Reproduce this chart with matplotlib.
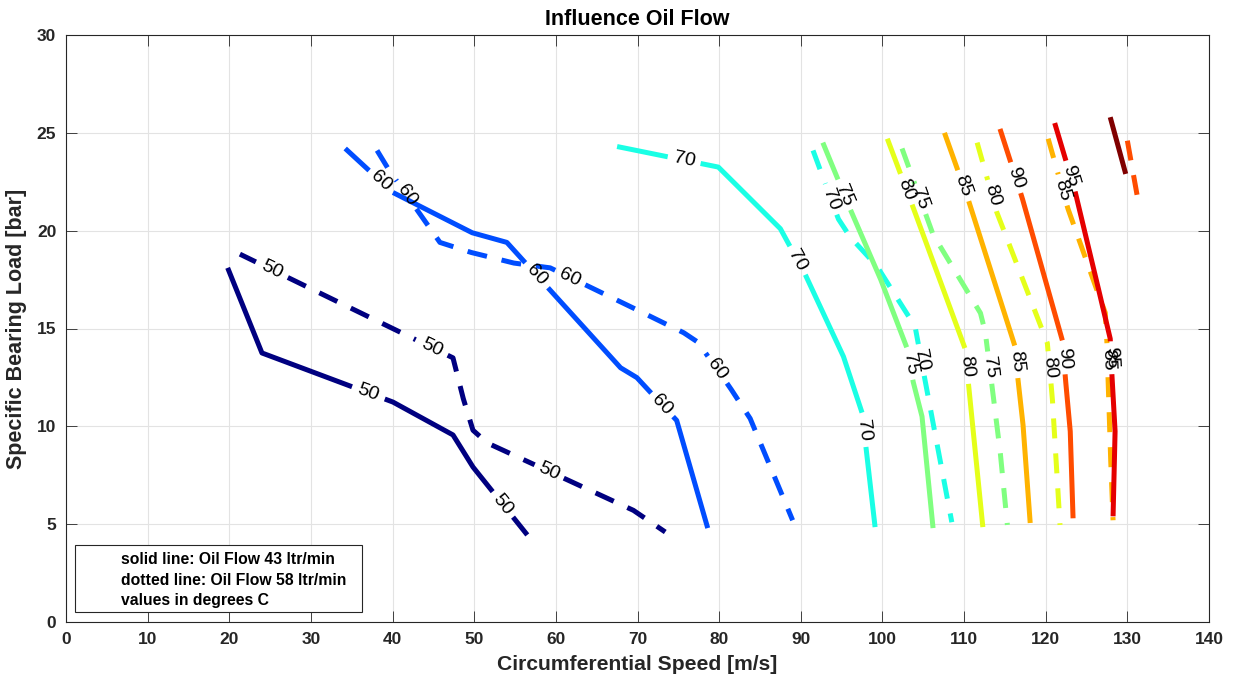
import numpy as np
import matplotlib
matplotlib.use("Agg")
import matplotlib.pyplot as plt
from matplotlib.patches import Rectangle

plt.rcParams['font.family'] = ['Liberation Sans', 'DejaVu Sans']

# contour lines (x = speed m/s, y = load bar)
# solid = oil flow 43 ltr/min, dashed = oil flow 58 ltr/min
solid_50_x = [19.8, 24.0, 40.05, 47.4, 49.85, 56.5]
solid_50_y = [18.1, 13.75, 11.24, 9.56, 7.92, 4.45]
solid_50_lab = [11.7, 6.0]

dashed_50_x = [21.3, 47.4, 48.6, 49.85, 51.6, 69.45, 73.4]
dashed_50_y = [18.8, 13.5, 11.5, 9.8, 9.15, 5.72, 4.6]
dashed_50_lab = [18.0, 14.0, 7.7]

solid_60_x = [34.2, 40.05, 49.7, 54.0, 67.9, 69.9, 71.9, 74.8, 78.6]
solid_60_y = [24.2, 21.95, 19.9, 19.4, 13.0, 12.5, 11.6, 10.3, 4.8]
solid_60_lab = [22.5, 17.7, 11.1]

dashed_60_x = [38.1, 39.4, 45.8, 49.5, 54.75, 59.3, 67.5, 75.6, 77.4, 81.3, 83.8, 89.0]
dashed_60_y = [24.1, 23.2, 19.4, 18.9, 18.35, 18.1, 16.45, 14.8, 14.3, 12.0, 10.4, 5.2]
dashed_60_lab = [21.8, 17.6, 12.9]

solid_70_x = [67.5, 79.9, 87.5, 90.5, 95.2, 97.5, 99.1]
solid_70_y = [24.3, 23.25, 20.1, 17.8, 13.6, 10.7, 4.85]
solid_70_lab = [23.6, 18.5, 9.8]

dashed_70_x = [91.5, 94.6, 96.0, 99.3, 104.0, 105.6, 108.5]
dashed_70_y = [24.1, 20.6, 19.7, 18.2, 15.1, 11.5, 5.1]
dashed_70_lab = [21.6, 13.4]

solid_75_x = [92.7, 96.0, 99.7, 103.1, 103.75, 104.85, 106.2]
solid_75_y = [24.5, 21.15, 17.6, 13.9, 12.3, 10.5, 4.8]
solid_75_lab = [21.8, 13.2]

dashed_75_x = [102.4, 106.2, 112.0, 112.6, 114.4, 115.3]
dashed_75_y = [24.2, 19.8, 15.8, 14.8, 8.8, 4.96]
dashed_75_lab = [21.6, 13.0]

solid_80_x = [100.6, 103.75, 110.1, 112.3]
solid_80_y = [24.7, 21.2, 14.0, 4.85]
solid_80_lab = [22.1, 13.1]

dashed_80_x = [111.6, 114.0, 120.2, 120.8, 121.75]
dashed_80_y = [24.5, 20.95, 14.25, 11.5, 4.96]
dashed_80_lab = [21.8, 13.0]

solid_85_x = [107.6, 110.5, 116.2, 116.6, 117.2, 118.1]
solid_85_y = [25.0, 21.6, 14.15, 12.4, 10.2, 5.06]
solid_85_lab = [22.3, 13.3]

dashed_85_x = [120.3, 122.7, 125.8, 127.3, 127.5, 127.9, 128.25]
dashed_85_y = [24.7, 21.15, 17.5, 15.8, 14.25, 8.9, 5.2]
dashed_85_lab = [22.1, 13.4]

solid_90_x = [114.4, 117.1, 122.1, 122.4, 123.0, 123.35]
solid_90_y = [25.2, 21.7, 14.3, 12.5, 9.8, 5.3]
solid_90_lab = [22.7, 13.5]

dashed_90_x = [130.0, 131.2]
dashed_90_y = [24.6, 21.8]
dashed_90_lab = []

solid_95_x = [121.1, 123.6, 125.1, 127.9, 128.1, 128.5, 128.25]
solid_95_y = [25.5, 22.0, 19.4, 14.5, 12.7, 9.8, 5.4]
solid_95_lab = [22.8, 13.5]

solid_100_x = [127.9, 129.8]
solid_100_y = [25.8, 22.9]
solid_100_lab = []

contours = [
    (50, '-', solid_50_x, solid_50_y, solid_50_lab),
    (50, '--', dashed_50_x, dashed_50_y, dashed_50_lab),
    (60, '-', solid_60_x, solid_60_y, solid_60_lab),
    (60, '--', dashed_60_x, dashed_60_y, dashed_60_lab),
    (70, '-', solid_70_x, solid_70_y, solid_70_lab),
    (70, '--', dashed_70_x, dashed_70_y, dashed_70_lab),
    (75, '-', solid_75_x, solid_75_y, solid_75_lab),
    (75, '--', dashed_75_x, dashed_75_y, dashed_75_lab),
    (80, '-', solid_80_x, solid_80_y, solid_80_lab),
    (80, '--', dashed_80_x, dashed_80_y, dashed_80_lab),
    (85, '-', solid_85_x, solid_85_y, solid_85_lab),
    (85, '--', dashed_85_x, dashed_85_y, dashed_85_lab),
    (90, '-', solid_90_x, solid_90_y, solid_90_lab),
    (90, '--', dashed_90_x, dashed_90_y, dashed_90_lab),
    (95, '-', solid_95_x, solid_95_y, solid_95_lab),
    (100, '-', solid_100_x, solid_100_y, solid_100_lab),
]

note_lines = ["solid line: Oil Flow 43 ltr/min",
              "dotted line: Oil Flow 58 ltr/min",
              "values in degrees C"]

TXT = '#262626'


def jet(level, lo=50, hi=100):
    """MATLAB style jet colour for a contour level."""
    t = (level - lo) / (hi - lo)
    r = np.clip(1.5 - abs(4 * t - 3), 0, 1)
    g = np.clip(1.5 - abs(4 * t - 2), 0, 1)
    b = np.clip(1.5 - abs(4 * t - 1), 0, 1)
    return (r, g, b)


def draw_contour(ax, level, style, x, y, label_ys, gap=16):
    """Plot one contour line with inline labels (line broken under the text)."""
    x = np.asarray(x, float)
    y = np.asarray(y, float)
    xs, ys = [], []
    for i in range(len(x) - 1):
        xs.append(np.linspace(x[i], x[i + 1], 80, endpoint=False))
        ys.append(np.linspace(y[i], y[i + 1], 80, endpoint=False))
    xs = np.concatenate(xs + [[x[-1]]])
    ys = np.concatenate(ys + [[y[-1]]])

    pts = ax.transData.transform(np.column_stack([xs, ys]))
    s = np.concatenate([[0], np.cumsum(np.hypot(*np.diff(pts, axis=0).T))])
    keep = np.ones(len(s), bool)

    for ly in label_ys:
        lx = np.interp(ly, y[::-1], x[::-1])
        p = ax.transData.transform((lx, ly))
        k = np.argmin(np.hypot(*(pts - p).T))
        keep &= np.abs(s - s[k]) > gap
        i0 = np.searchsorted(s, s[k] - 8)
        i1 = min(np.searchsorted(s, s[k] + 8), len(s) - 1)
        d = pts[i1] - pts[i0]
        ang = np.degrees(np.arctan2(d[1], d[0]))
        if ang > 90:
            ang -= 180
        elif ang < -90:
            ang += 180
        ax.text(xs[k], ys[k], str(level), rotation=ang, rotation_mode='anchor',
                ha='center', va='center', fontsize=14, color='black', zorder=4)

    xs = xs.copy()
    xs[~keep] = np.nan
    ls = '-' if style == '-' else (0, (4, 3))
    ax.plot(xs, ys, color=jet(level), lw=3.6, linestyle=ls,
            solid_capstyle='butt', dash_capstyle='butt', zorder=3)


fig = plt.figure(figsize=(12.34, 6.83), dpi=100)
ax = fig.add_axes([66 / 1234, 61 / 683, 1143 / 1234, 587 / 683])
ax.set_xlim(0, 140)
ax.set_ylim(0, 30)
ax.set_xticks(np.arange(0, 141, 10))
ax.set_yticks(np.arange(0, 31, 5))

ax.grid(True, color='#e3e3e3', lw=0.8)
ax.set_axisbelow(True)
for sp in ax.spines.values():
    sp.set_color(TXT)
    sp.set_linewidth(0.8)
ax.tick_params(direction='in', length=8, width=0.6, color=TXT, top=True, right=True,
               labelsize=12.5, labelcolor=TXT, pad=7)
for lab in ax.get_xticklabels() + ax.get_yticklabels():
    lab.set_fontweight('bold')

for level, style, cx, cy, labs in contours:
    draw_contour(ax, level, style, cx, cy, labs)

ax.set_title("Influence Oil Flow", fontsize=15.5, fontweight='bold', color='black', pad=7)
ax.set_xlabel("Circumferential Speed [m/s]", fontsize=15.2, fontweight='bold', color=TXT, labelpad=6)
ax.set_ylabel("Specific Bearing Load [bar]", fontsize=15.5, fontweight='bold', color=TXT, labelpad=7)

# annotation box at lower left
ax.add_patch(Rectangle((0.0079, 0.017), 0.251, 0.114, transform=ax.transAxes,
                       facecolor='white', edgecolor=TXT, lw=0.8, zorder=5))
for i, line in enumerate(note_lines):
    ax.text(0.048, 0.107 - i * 0.0355, line, transform=ax.transAxes, fontsize=11.3,
            fontweight='bold', color='black', va='center', ha='left', zorder=6)

fig.savefig("out.png", dpi=100)
